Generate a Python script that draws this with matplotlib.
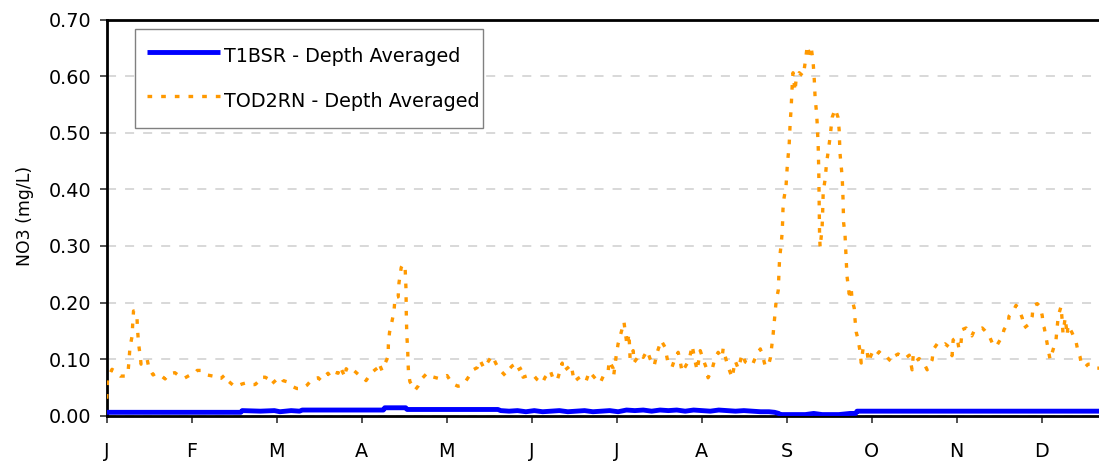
import matplotlib
matplotlib.use("Agg")
import matplotlib.pyplot as plt
from matplotlib.ticker import FixedLocator, FixedFormatter

# ---------------- data ----------------
month_labels = ["J", "F", "M", "A", "M", "J", "J", "A", "S", "O", "N", "D"]
y_ticks = [0.0, 0.1, 0.2, 0.3, 0.4, 0.5, 0.6, 0.7]

series_names = ["T1BSR - Depth Averaged", "TOD2RN - Depth Averaged"]

# T1BSR (blue), day of year vs NO3 (mg/L)
blue_day = [0, 20, 48, 48.5, 55, 60, 62, 66, 69, 70, 80, 90, 99, 99.5, 107, 107.5,
            120, 130, 140, 141, 144, 147, 150, 153, 156, 159, 162, 165, 168, 171,
            174, 177, 180, 183, 186, 189, 192, 195, 198, 201, 204, 207, 210, 213,
            216, 219, 222, 225, 228, 231, 234, 237, 239, 240.5, 241, 250, 253, 256,
            262, 264, 266, 268, 268.5, 300, 330, 365]
blue_val = [0.006, 0.006, 0.006, 0.009, 0.008, 0.009, 0.007, 0.009, 0.008, 0.010, 0.010, 0.010, 0.010, 0.014, 0.014, 0.011,
            0.011, 0.011, 0.011, 0.009, 0.008, 0.009, 0.007, 0.009, 0.007, 0.008, 0.009, 0.007, 0.008, 0.009,
            0.007, 0.008, 0.009, 0.007, 0.010, 0.009, 0.010, 0.008, 0.010, 0.009, 0.010, 0.008, 0.010, 0.009,
            0.008, 0.010, 0.009, 0.008, 0.009, 0.008, 0.007, 0.007, 0.006, 0.004, 0.002, 0.002, 0.004, 0.002,
            0.002, 0.003, 0.004, 0.004, 0.008, 0.008, 0.008, 0.008]

# TOD2RN (orange), day of year vs NO3 (mg/L)
orange_day = [0.0, 0.3, 1.9, 3.0, 4.8, 6.9, 7.6, 8.0, 8.3, 9.1, 9.3, 9.6, 10.1, 10.8, 11.0, 11.3, 11.6, 11.9, 12.3,
              13.0, 14.5, 15.1, 16.6, 17.6, 19.1, 20.9, 22.3, 24.4, 25.2, 27.7, 29.5, 30.9, 32.4, 34.1, 35.9,
              38.0, 38.8, 40.9, 42.3, 43.8, 45.9, 48.4, 49.9, 51.3, 53.1, 54.2, 54.9, 56.7, 57.8, 58.8, 60.6,
              62.4, 63.1, 64.5, 65.6, 66.7, 68.1, 69.9, 71.7, 73.1, 74.2, 75.7, 76.7, 77.5, 79.2, 79.9, 81.0,
              82.8, 83.5, 85.3, 85.7, 86.7, 88.2, 90.0, 91.8, 92.8, 94.6, 96.0, 97.1, 97.4, 98.5, 99.2, 100.3,
              100.7, 100.8, 101.2, 102.1, 102.8, 103.2, 104.3, 104.6, 105.4, 106.1, 106.8, 107.1, 107.2, 107.4,
              107.7, 107.8, 108.0, 108.5, 109.3, 110.3, 111.4, 112.9, 114.6, 116.4, 118.6, 120.4, 121.8, 123.6,
              125.7, 127.5, 129.7, 131.1, 132.6, 133.6, 135.0, 136.8, 137.9, 138.6, 139.7, 141.1, 142.6, 143.6,
              145.1, 146.1, 146.8, 148.6, 149.0, 150.8, 152.6, 154.0, 155.8, 156.9, 158.7, 159.7, 161.2, 163.0,
              163.3, 165.1, 166.2, 167.3, 168.7, 170.1, 171.6, 172.7, 174.1, 175.5, 176.6, 177.7, 179.4, 179.8,
              181.2, 181.4, 182.3, 183.0, 184.1, 185.1, 185.5, 186.2, 186.9, 187.3, 188.4, 188.7, 190.9, 192.0,
              193.4, 194.5, 195.9, 197.0, 198.4, 199.8, 200.9, 202.3, 203.4, 204.5, 205.2, 205.9, 207.3, 208.4,
              209.5, 210.6, 211.3, 212.4, 213.4, 214.9, 215.2, 216.7, 217.7, 218.8, 220.2, 220.6, 222.0, 223.8,
              224.9, 226.0, 227.4, 228.5, 229.6, 231.0, 232.4, 233.9, 235.0, 235.7, 236.8, 237.5, 238.0, 238.5,
              238.9, 239.2, 239.6, 240.3, 240.6, 240.8, 241.3, 241.7, 241.9, 242.0, 242.4, 243.1, 243.5, 243.8,
              244.2, 244.6, 244.9, 245.3, 245.6, 246.3, 246.7, 247.8, 249.2, 249.6, 250.0, 250.7, 251.4, 252.1,
              252.8, 253.2, 253.5, 253.9, 254.2, 254.6, 254.8, 254.9, 255.0, 255.1, 255.3, 256.0, 256.2, 256.4,
              257.1, 257.6, 258.2, 258.9, 259.6, 260.7, 261.7, 262.1, 262.4, 263.2, 263.5, 263.7, 264.2, 264.6,
              264.9, 265.7, 266.4, 266.7, 267.5, 267.8, 268.2, 268.9, 269.6, 270.0, 270.7, 272.1, 272.5, 273.9,
              275.0, 276.4, 277.5, 278.9, 280.0, 281.0, 282.1, 283.2, 283.9, 285.7, 287.2, 288.2, 288.6, 289.3,
              290.7, 292.2, 293.6, 294.7, 295.4, 295.8, 297.2, 298.6, 300.0, 301.5, 302.5, 302.9, 304.3, 305.0,
              305.7, 306.1, 307.5, 309.6, 310.4, 313.3, 314.3, 315.8, 317.2, 318.3, 319.7, 320.4, 321.1, 322.6,
              322.9, 324.4, 325.4, 326.5, 327.6, 328.3, 330.1, 331.2, 331.5, 333.0, 334.0, 334.8, 335.1, 335.5,
              336.2, 336.9, 337.6, 338.7, 339.7, 340.1, 340.5, 341.5, 341.9, 342.2, 343.0, 343.7, 344.0, 345.5,
              346.9, 347.6, 348.3, 348.7, 350.1, 351.2, 352.6, 354.4, 356.0]
orange_val = [0.030, 0.065, 0.082, 0.078, 0.070, 0.070, 0.075, 0.098, 0.120, 0.141, 0.162, 0.185, 0.185, 0.178, 0.155, 0.134, 0.120, 0.109, 0.091,
              0.099, 0.099, 0.084, 0.072, 0.075, 0.072, 0.065, 0.074, 0.076, 0.073, 0.066, 0.071, 0.072, 0.080, 0.080, 0.072,
              0.070, 0.066, 0.066, 0.072, 0.060, 0.051, 0.056, 0.058, 0.055, 0.055, 0.060, 0.068, 0.068, 0.065, 0.055, 0.063,
              0.068, 0.062, 0.060, 0.055, 0.051, 0.048, 0.048, 0.054, 0.062, 0.066, 0.067, 0.062, 0.068, 0.075, 0.070, 0.078,
              0.075, 0.087, 0.068, 0.083, 0.077, 0.081, 0.073, 0.068, 0.062, 0.075, 0.081, 0.085, 0.093, 0.080, 0.088, 0.100,
              0.106, 0.126, 0.147, 0.167, 0.184, 0.210, 0.210, 0.235, 0.262, 0.268, 0.260, 0.224, 0.182, 0.141,
              0.119, 0.098, 0.076, 0.060, 0.054, 0.045, 0.052, 0.066, 0.075, 0.069, 0.066, 0.068, 0.071, 0.057,
              0.052, 0.054, 0.070, 0.081, 0.085, 0.098, 0.084, 0.098, 0.106, 0.099, 0.088, 0.079, 0.071, 0.080,
              0.088, 0.091, 0.080, 0.085, 0.068, 0.071, 0.072, 0.064, 0.057, 0.068, 0.080, 0.066, 0.062, 0.093,
              0.078, 0.085, 0.090, 0.060, 0.066, 0.070, 0.062, 0.078, 0.070, 0.062, 0.058, 0.070, 0.076, 0.097,
              0.084, 0.070, 0.105, 0.127, 0.147, 0.166, 0.150, 0.124, 0.145, 0.100, 0.115, 0.094, 0.109, 0.103,
              0.115, 0.100, 0.088, 0.112, 0.133, 0.121, 0.092, 0.086, 0.102, 0.112, 0.097, 0.077, 0.089, 0.098,
              0.124, 0.095, 0.080, 0.115, 0.100, 0.080, 0.067, 0.083, 0.102, 0.112, 0.102, 0.119, 0.092, 0.067,
              0.097, 0.083, 0.109, 0.095, 0.092, 0.089, 0.106, 0.118, 0.100, 0.087, 0.089, 0.102, 0.124, 0.145,
              0.166, 0.183, 0.205, 0.221, 0.258, 0.279, 0.300, 0.323, 0.346, 0.365, 0.385, 0.406, 0.438, 0.456,
              0.477, 0.520, 0.541, 0.583, 0.606, 0.573, 0.594, 0.606, 0.600, 0.612, 0.626, 0.654, 0.640, 0.651,
              0.624, 0.594, 0.562, 0.541, 0.520, 0.477, 0.435, 0.394, 0.350, 0.318, 0.297, 0.332, 0.360, 0.396,
              0.418, 0.447, 0.467, 0.494, 0.527, 0.542, 0.527, 0.505, 0.464, 0.421, 0.382, 0.341, 0.320, 0.279,
              0.247, 0.215, 0.226, 0.206, 0.190, 0.169, 0.148, 0.134, 0.113, 0.093, 0.120, 0.116, 0.095, 0.111,
              0.104, 0.113, 0.107, 0.106, 0.099, 0.095, 0.106, 0.109, 0.107, 0.101, 0.107, 0.081, 0.106, 0.095,
              0.101, 0.095, 0.081, 0.092, 0.099, 0.117, 0.127, 0.123, 0.127, 0.121, 0.106, 0.134, 0.139, 0.117,
              0.128, 0.152, 0.155, 0.141, 0.150, 0.155, 0.150, 0.141, 0.125, 0.122, 0.134, 0.139, 0.152, 0.164,
              0.176, 0.185, 0.195, 0.187, 0.173, 0.155, 0.162, 0.176, 0.194, 0.198, 0.193, 0.176, 0.159, 0.155,
              0.137, 0.117, 0.099, 0.117, 0.134, 0.155, 0.176, 0.193, 0.169, 0.146, 0.173, 0.142, 0.160, 0.146,
              0.130, 0.113, 0.104, 0.093, 0.086, 0.091, 0.091, 0.084, 0.084]

# ---------------- figure ----------------
W, H = 1099, 462
fig = plt.figure(figsize=(W / 100, H / 100), dpi=100)
ax_left, ax_bottom, ax_right, ax_top = 106.7, 415.7, 1126.7, 19.5
ax = fig.add_axes([ax_left / W, (H - ax_bottom) / H,
                   (ax_right - ax_left) / W, (ax_bottom - ax_top) / H])

FONT = "DejaVu Sans"
FS = 13.8

ax.plot(blue_day, blue_val, color="#0000FF", lw=3.5, solid_capstyle="butt",
        label=series_names[0], zorder=3)
ax.plot(orange_day, orange_val, color="#FF9900", lw=2.4,
        linestyle=(0, (1.4, 2.7)), dash_capstyle="butt",
        label=series_names[1], zorder=4)

year_len = 365.0
ax.set_xlim(0, year_len)
ax.set_ylim(0, 0.70)

month_pos = [i * year_len / 12 for i in range(len(month_labels))]
ax.xaxis.set_major_locator(FixedLocator(month_pos))
ax.xaxis.set_major_formatter(FixedFormatter(month_labels))
ax.set_yticks(y_ticks)
ax.set_yticklabels([f"{v:.2f}" for v in y_ticks])

ax.tick_params(axis="both", direction="out", length=5, width=1.2, color="#333333",
               labelsize=FS, labelcolor="black")
ax.tick_params(axis="x", pad=14)
ax.tick_params(axis="y", pad=6)
for lab in ax.get_xticklabels() + ax.get_yticklabels():
    lab.set_fontfamily(FONT)

for s in ["left", "bottom", "top"]:
    ax.spines[s].set_linewidth(2.0)
    ax.spines[s].set_color("black")
ax.spines["right"].set_visible(False)

ax.yaxis.grid(True, color="#D5D5D5", linestyle=(0, (5, 5)), linewidth=1.3)
ax.set_axisbelow(True)

ax.set_ylabel("NO3 (mg/L)", fontsize=12.4, family=FONT)
ax.yaxis.set_label_coords((34 - ax_left) / (ax_right - ax_left), 0.504)

lx0 = (135 - ax_left) / (ax_right - ax_left)
lw_ = (483 - 135) / (ax_right - ax_left)
ly_top = (ax_bottom - 29) / (ax_bottom - ax_top)
leg = ax.legend(loc="upper left", bbox_to_anchor=(lx0, ly_top, lw_, 0.0),
                mode="expand", frameon=True, fancybox=False, framealpha=1,
                edgecolor="#808080", prop={"family": FONT, "size": FS},
                handlelength=3.8, handleheight=2.0, handletextpad=0.2,
                borderpad=0.65, labelspacing=0.78, borderaxespad=0)
leg.get_frame().set_linewidth(1.0)

fig.savefig("out.png", dpi=100)
